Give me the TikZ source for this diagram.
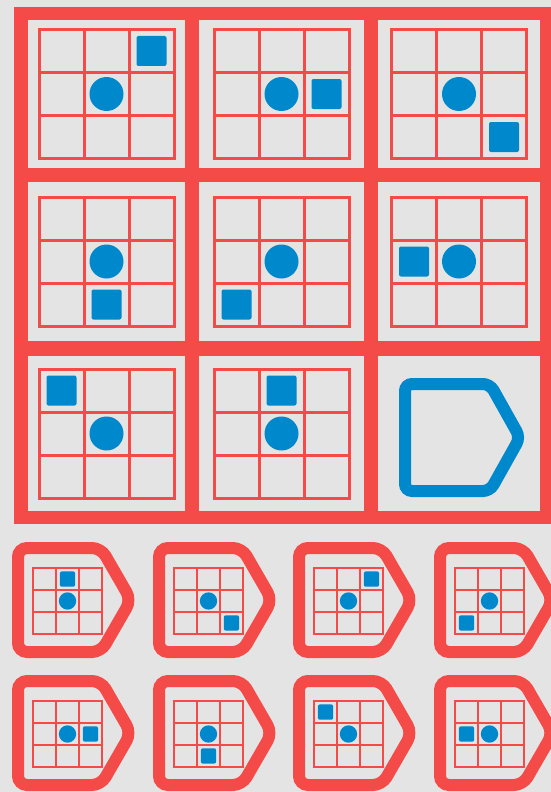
\documentclass[tikz,border=0pt]{standalone}
\usepackage{xcolor}
\usepackage{tikz}
\definecolor{puzred}{RGB}{244,75,72}
\definecolor{puzblue}{RGB}{0,136,204}
\definecolor{puzgray}{RGB}{228,228,228}
\tikzset{
    cellbox/.style={rectangle, fill=puzgray, inner sep=0pt},
    gridln/.style={draw=puzred},
    dotmark/.style={circle, fill=puzblue, inner sep=0pt, minimum size=34pt},
    sqmark/.style={rectangle, rounded corners=2pt, fill=puzblue, inner sep=0pt,
                   minimum size=30pt},
    answerline/.style={draw=puzblue, line width=12pt, rounded corners=7pt},
    choiceline/.style={draw=puzred, line width=12pt, rounded corners=9pt},
}
% #1 centre, #2 scale, #3/#4 square offset in cells, #5 name
\newcommand{\puzgrid}[5]{%
    \begin{scope}[shift={(#1)}, scale=#2, every node/.append style={transform shape}]
        \draw[gridln, line width={(1+2*#2)*1pt}] (-67.5,-64.5) rectangle (67.5,64.5);
        \draw[gridln, line width={(1+2*#2)*1pt}] (-22.5,-64.5) -- (-22.5,64.5)
            (22.5,-64.5) -- (22.5,64.5) (-67.5,-21.5) -- (67.5,-21.5)
            (-67.5,21.5) -- (67.5,21.5);
        \node[dotmark] (#5-dot) at (0,0) {};
        \node[sqmark] (#5-sq) at (#3*45,#4*43) {};
    \end{scope}}

\begin{document}
\begin{tikzpicture}[x=1pt, y=-1pt]
    \useasboundingbox (0,0) rectangle (551,792);
    \fill[puzgray] (0,0) rectangle (551,792);
    \fill[puzred] (14,7) rectangle (554,524);
    \foreach \cx/\cw [count=\i] in {106.5/157, 281.5/165, 459/162}
        \foreach \cy/\ch [count=\j] in {94/148, 261.5/159, 433.5/155}
            \node[cellbox, minimum width=\cw pt, minimum height=\ch pt] (c\j\i) at (\cx,\cy) {};
    \puzgrid{c11}{1}{1}{-1}{g11}
    \puzgrid{c12}{1}{1}{0}{g12}
    \puzgrid{c13}{1}{1}{1}{g13}
    \puzgrid{c21}{1}{0}{1}{g21}
    \puzgrid{c22}{1}{-1}{1}{g22}
    \puzgrid{c23}{1}{-1}{0}{g23}
    \puzgrid{c31}{1}{-1}{-1}{g31}
    \puzgrid{c32}{1}{0}{-1}{g32}
    \draw[answerline] (405,437.5) -- (405,384) -- (490,384) -- (520,437.5)
        -- (490,491) -- (405,491) -- cycle;
    \foreach \ox/\oy/\sx/\sy [count=\k] in {0/0/0/-1, 141/0/1/1, 281/0/1/-1, 422/0/-1/1,
                                           0/133/1/0, 141/133/0/1, 281/133/-1/-1, 422/133/-1/0} {
        \draw[choiceline] (18+\ox,600+\oy) -- (18+\ox,548+\oy) -- (101+\ox,548+\oy)
            -- (131+\ox,600+\oy) -- (101+\ox,652+\oy) -- (18+\ox,652+\oy) -- cycle;
        \puzgrid{67.5+\ox,601+\oy}{0.51}{\sx}{\sy}{opt\k}
    }
\end{tikzpicture}
\end{document}
